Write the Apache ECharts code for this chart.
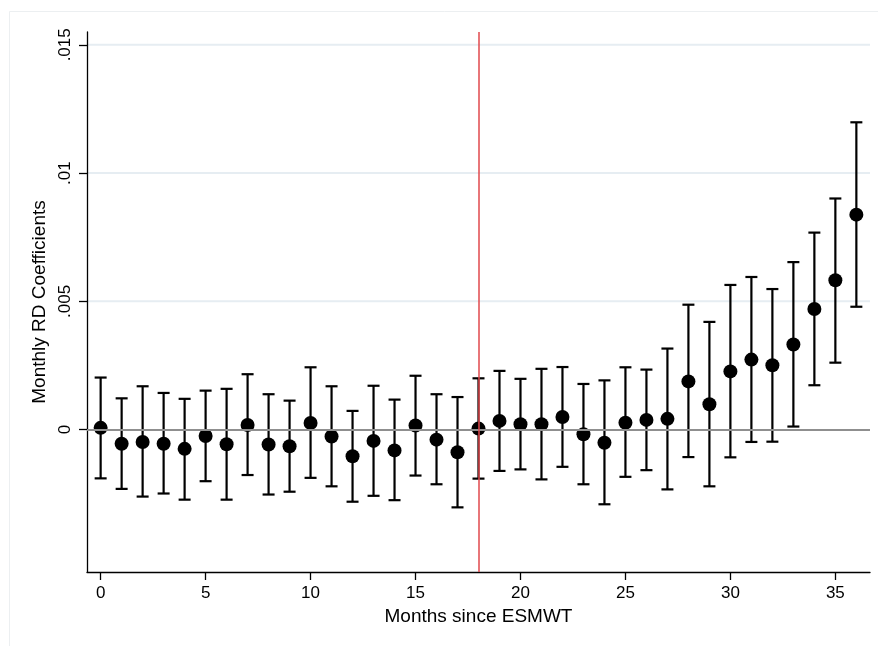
<!DOCTYPE html>
<html>
<head>
<meta charset="utf-8">
<script src="https://cdn.jsdelivr.net/npm/echarts@6/dist/echarts.min.js"></script>
<style>html,body{margin:0;padding:0;background:#fff}#c{width:878px;height:646px}</style>
</head>
<body>
<div id="c"></div>
<script>
const months = [0,1,2,3,4,5,6,7,8,9,10,11,12,13,14,15,16,17,18,19,20,21,22,23,24,25,26,27,28,29,30,31,32,33,34,35,36];
const coef = [0.00007,-0.00055,-0.00048,-0.00055,-0.00075,-0.00025,-0.00057,0.00018,-0.00058,-0.00065,0.00026,-0.00027,-0.00104,-0.00044,-0.00081,0.00016,-0.00039,-0.00088,0.00004,0.00034,0.00021,0.00021,0.00049,-0.00018,-0.00051,0.00027,0.00038,0.00042,0.00188,0.00099,0.00227,0.00273,0.00251,0.00332,0.0047,0.00582,0.00838];
const ciHigh = [0.00203,0.00122,0.00169,0.00143,0.0012,0.00152,0.00159,0.00216,0.00138,0.00113,0.00243,0.00169,0.00073,0.00171,0.00117,0.0021,0.00138,0.00127,0.002,0.00229,0.00198,0.00237,0.00244,0.00178,0.00192,0.00243,0.00234,0.00316,0.00487,0.0042,0.00564,0.00595,0.00548,0.00653,0.00768,0.00901,0.01198];
const ciLow = [-0.0019,-0.00231,-0.00261,-0.00249,-0.00273,-0.00201,-0.00273,-0.00177,-0.00253,-0.00242,-0.00188,-0.00221,-0.00281,-0.00258,-0.00275,-0.00179,-0.00213,-0.00303,-0.00191,-0.00161,-0.00155,-0.00194,-0.00145,-0.00213,-0.00291,-0.00184,-0.00158,-0.00233,-0.00107,-0.00221,-0.00108,-0.00048,-0.00047,0.00012,0.00173,0.00261,0.00479];
const yTicks = [0, 0.005, 0.01, 0.015];
const yTickLabels = ['0', '.005', '.01', '.015'];
const gridValues = [0.005, 0.01, 0.015];
const xTicks = [0, 5, 10, 15, 20, 25, 30, 35];
const cutoff = 18;

const font = 'Liberation Sans, Arial, Helvetica, sans-serif';
const chart = echarts.init(document.getElementById('c'), null, {renderer: 'canvas'});
const errData = months.map((m, i) => [m, ciLow[i], ciHigh[i]]);
const ptData = months.map((m, i) => [m, coef[i]]);

chart.setOption({
  animation: false,
  backgroundColor: '#fff',
  graphic: [{
    type: 'rect', left: 7, top: 9, shape: {width: 880, height: 650},
    style: {fill: 'none', stroke: '#eceff1', lineWidth: 1}, silent: true, z: -10
  }],
  grid: {left: 87, right: 8, top: 32, bottom: 74, containLabel: false},
  xAxis: {
    type: 'value', min: -0.65, max: 36.65,
    name: 'Months since ESMWT', nameLocation: 'middle', nameGap: 33,
    nameTextStyle: {fontFamily: font, fontSize: 19, color: '#000'},
    axisLine: {show: true, onZero: false, lineStyle: {color: '#000', width: 1.3}},
    axisTick: {show: true, length: 8, customValues: xTicks, lineStyle: {color: '#000', width: 1.3}},
    axisLabel: {customValues: xTicks, margin: 13, fontFamily: font, fontSize: 17, color: '#000',
      formatter: v => String(v)},
    splitLine: {show: false}
  },
  yAxis: {
    type: 'value', min: -0.00555, max: 0.0155,
    name: 'Monthly RD Coefficients', nameLocation: 'middle', nameGap: 34, nameRotate: 90,
    nameTextStyle: {fontFamily: font, fontSize: 19, color: '#000'},
    axisLine: {show: true, onZero: false, lineStyle: {color: '#000', width: 1.3}},
    axisTick: {show: true, length: 8, customValues: yTicks, lineStyle: {color: '#000', width: 1.3}},
    axisLabel: {customValues: yTicks, rotate: 90, margin: 13, fontFamily: font, fontSize: 17, color: '#000',
      formatter: v => { const i = yTicks.findIndex(t => Math.abs(t - v) < 1e-9); return i >= 0 ? yTickLabels[i] : ''; }},
    splitLine: {show: false}
  },
  series: [
    {
      type: 'custom', z: 0, silent: true, data: gridValues.map(v => [0, v]),
      renderItem: function (params, api) {
        const cs = params.coordSys;
        const y = api.coord([0, api.value(1)])[1];
        return {type: 'line', shape: {x1: cs.x, y1: y, x2: cs.x + cs.width, y2: y},
          style: {stroke: '#e6edf2', lineWidth: 2}};
      }
    },
    {
      type: 'line', data: [], z: 1, silent: true,
      markLine: {
        silent: true, symbol: ['none', 'none'], label: {show: false}, animation: false,
        data: [
          {yAxis: 0, lineStyle: {color: '#8f8f8f', width: 1.8, type: 'solid'}},
          {xAxis: cutoff, lineStyle: {color: '#e0484c', width: 1.5, type: 'solid'}}
        ]
      }
    },
    {
      type: 'custom', z: 3, data: errData, silent: true,
      renderItem: function (params, api) {
        const x = api.value(0), lo = api.value(1), hi = api.value(2);
        const pH = api.coord([x, hi]), pL = api.coord([x, lo]);
        const w = 6;
        const st = {stroke: '#000', lineWidth: 2.2};
        return {
          type: 'group', children: [
            {type: 'line', shape: {x1: pH[0], y1: pH[1], x2: pL[0], y2: pL[1]}, style: st},
            {type: 'line', shape: {x1: pH[0] - w, y1: pH[1], x2: pH[0] + w, y2: pH[1]}, style: st},
            {type: 'line', shape: {x1: pL[0] - w, y1: pL[1], x2: pL[0] + w, y2: pL[1]}, style: st}
          ]
        };
      }
    },
    {
      type: 'scatter', z: 4, data: ptData, symbol: 'circle', symbolSize: 14,
      itemStyle: {color: '#000', opacity: 1}, silent: true
    }
  ]
});
</script>
</body>
</html>
